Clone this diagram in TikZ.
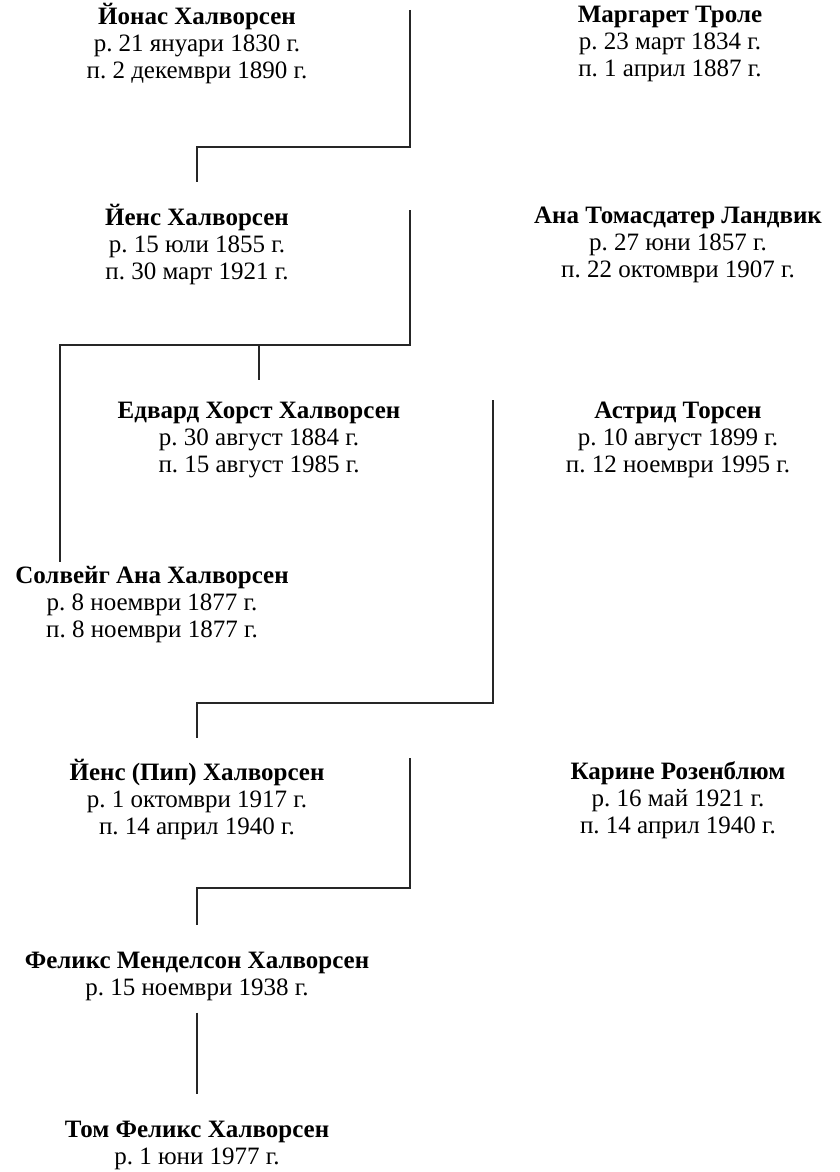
\documentclass[tikz,border=0pt]{standalone}
\usepackage{fontspec}
\setmainfont[Language=Bulgarian]{Liberation Serif}
\frenchspacing
\usetikzlibrary{positioning}
\tikzset{
  person/.style = {align=center, inner sep=0pt, font=\fontsize{25}{27}\selectfont},
  link/.style = {line width=1.8pt, draw=black!85}
}
\begin{document}
\begin{tikzpicture}[x=1pt, y=-1pt]
		\useasboundingbox (0,0) rectangle (839,1172);
		% first couple
		\node[person] (jonas) at (197,44) {\textbf{Йонас Халворсен}\\р. 21 януари 1830 г.\\п. 2 декември 1890 г.};
		\node[person] (margaret) at (670,44) {\textbf{Маргарет Троле}\\р. 23 март 1834 г.\\п. 1 април 1887 г.};
		% second couple
		\node[person] (jens) at (197,245) {\textbf{Йенс Халворсен}\\р. 15 юли 1855 г.\\п. 30 март 1921 г.};
		\node[person] (ana) at (678,245) {\textbf{Ана Томасдатер Ландвик}\\р. 27 юни 1857 г.\\п. 22 октомври 1907 г.};
		% children of Jens and Ana
		\node[person] (edvard) at (259,440) {\textbf{Едвард Хорст Халворсен}\\р. 30 август 1884 г.\\п. 15 август 1985 г.};
		\node[person] (astrid) at (678,440) {\textbf{Астрид Торсен}\\р. 10 август 1899 г.\\п. 12 ноември 1995 г.};
		\node[person] (solveig) at (152,605) {\textbf{Солвейг Ана Халворсен}\\р. 8 ноември 1877 г.\\п. 8 ноември 1877 г.};
		% third couple
		\node[person] (pip) at (197,800) {\textbf{Йенс (Пип) Халворсен}\\р. 1 октомври 1917 г.\\п. 14 април 1940 г.};
		\node[person] (karine) at (678,800) {\textbf{Карине Розенблюм}\\р. 16 май 1921 г.\\п. 14 април 1940 г.};
		\node[person] (felix) at (197,976) {\textbf{Феликс Менделсон Халворсен}\\р. 15 ноември 1938 г.};
		\node[person] (tom) at (197,1145) {\textbf{Том Феликс Халворсен}\\р. 1 юни 1977 г.};

		\coordinate (m1) at (410,10);
		\coordinate (b1) at (410,147);
		\coordinate (m2) at (410,210);
		\coordinate (b2) at (410,345);
		\coordinate (sv) at (60,562);
		\coordinate (m3) at (493,400);
		\coordinate (b3) at (493,703);
		\coordinate (m4) at (410,758);
		\coordinate (b4) at (410,888);

		\draw[link] (m1) -- (b1) -| ([yshift=22pt]jens.north);
		\draw[link] (m2) -- (b2) -| (sv);
		\draw[link] (b2 -| edvard.north) -- ([yshift=22pt]edvard.north);
		\draw[link] (m3) -- (b3) -| ([yshift=22pt]pip.north);
		\draw[link] (m4) -- (b4) -| ([yshift=26pt]felix.north);
		\draw[link] ([yshift=-12pt]felix.south) -- ([yshift=26pt]tom.north);
	\end{tikzpicture}
\end{document}
